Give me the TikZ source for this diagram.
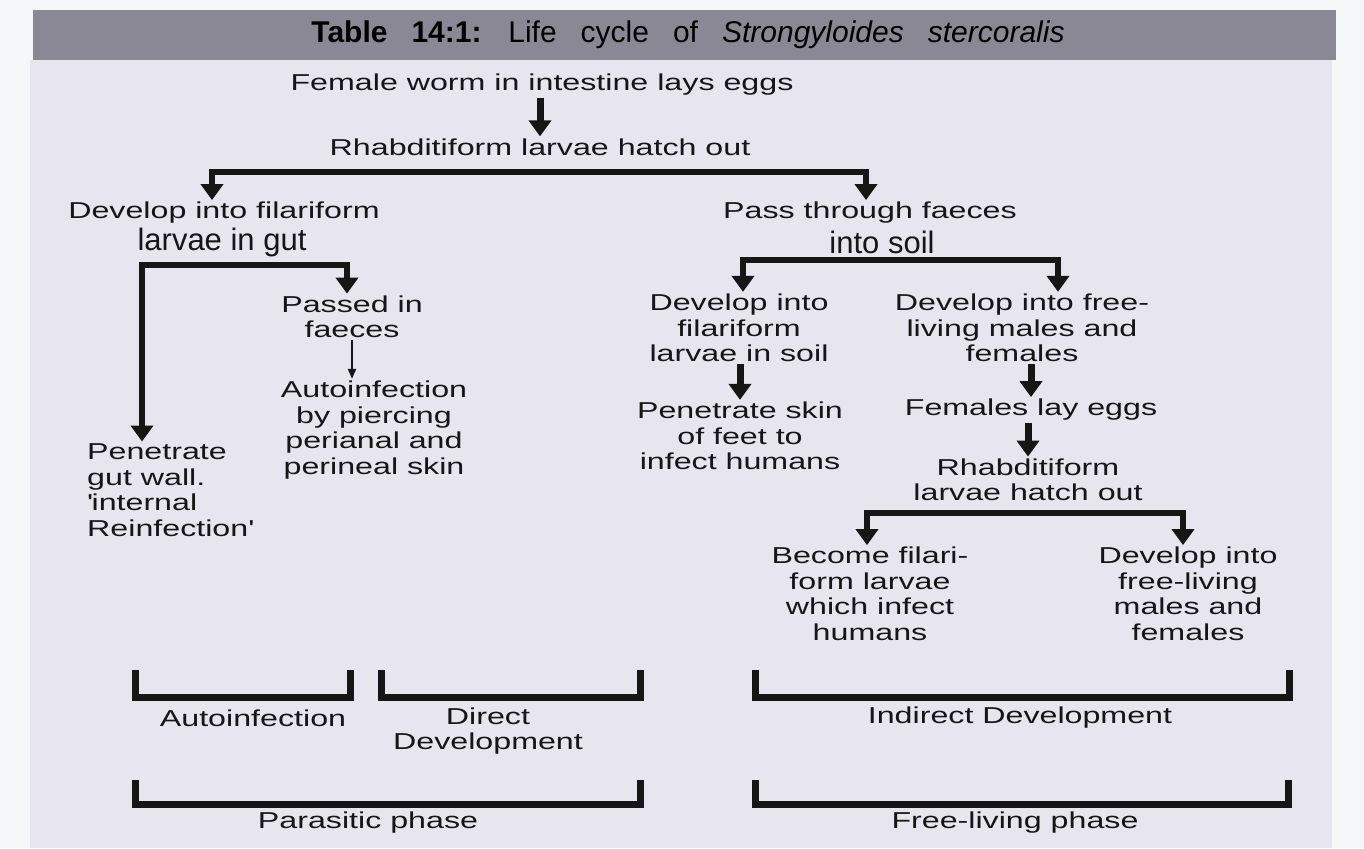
\documentclass[tikz,border=0pt]{standalone}
\usepackage{fontspec}
\setmainfont{Liberation Sans}[FakeStretch=1.4]
\newfontfamily\plainfont{Liberation Sans}
\usetikzlibrary{arrows.meta,calc}
\definecolor{paper}{HTML}{F5F6F8}
\definecolor{panel}{HTML}{E7E5EE}
\definecolor{barfill}{HTML}{8A8894}
\definecolor{ink}{HTML}{161616}
\def\bracket(#1,#2,#3,#4){\draw[brk] (#1,#3) -- (#1,#4) -- (#2,#4) -- (#2,#3);}
\tikzset{
	txt/.style={font=\fontsize{23}{25.5}\selectfont, align=center, text=ink, inner sep=2pt},
	bigtxt/.style={font=\plainfont\fontsize{31}{31}\selectfont, text=ink, inner sep=1pt},
	titletxt/.style={font=\plainfont\fontsize{30}{30}\selectfont, text=black, inner sep=0pt},
	arr/.style={line width=7pt, draw=ink, -{Triangle[width=22pt,length=16pt]}},
	split/.style={line width=6pt, draw=ink, line join=miter, {Triangle[width=22pt,length=16pt]}-{Triangle[width=22pt,length=16pt]}},
	thinarr/.style={line width=2pt, draw=ink, -{Triangle[width=8pt,length=10pt]}},
	brk/.style={line width=7pt, draw=ink, line join=miter}
}

\begin{document}
\begin{tikzpicture}[x=1pt,y=-1pt]
		%%%%% START %%%%%
		\useasboundingbox (0,0) rectangle (1364,848);
		\fill[paper] (0,0) rectangle (1364,848);
		\fill[panel] (30,60) rectangle (1332,848);
		\fill[barfill] (33,10) rectangle (1336,60);
		\node[titletxt] (title) at (688,35) {\spaceskip=24pt\relax\textbf{Table 14:1:} Life cycle of \textit{Strongyloides stercoralis}};
		
		% top of the cycle
		\node[txt] (eggs) at (542,85) {Female worm in intestine lays eggs};
		\node[txt] (hatch) at (540,147) {Rhabditiform larvae hatch out};
		\draw[arr] (eggs.south -| hatch.north) -- (hatch.north);
		
		\node[txt] (gut) at (224,213) {Develop into filariform};
		\node[bigtxt] (gut2) at (222,242) {larvae in gut};
		\node[txt] (faeces) at (870,213) {Pass through faeces};
		\node[bigtxt] (soil) at (882,242) {into soil};
		\coordinate (s1l) at (212,172);
		\coordinate (s1r) at (866,172);
		\draw[split] (gut.north -| s1l) -- (s1l) -- (s1r) -- (faeces.north -| s1r);
		
		% parasitic side
		\node[txt] (passed) at (352,317) {Passed in\\faeces};
		\node[txt] (auto) at (374,430) {Autoinfection\\by piercing\\perianal and\\perineal skin};
		\node[txt, align=left, anchor=west] (pen) at (85,490) {Penetrate\\gut wall.\\\textquotesingle internal\\Reinfection\textquotesingle};
		\coordinate (s2l) at (142,265);
		\coordinate (s2r) at (347,265);
		\draw[split] (pen.north -| s2l) -- (s2l) -- (s2r) -- (passed.north -| s2r);
		\draw[thinarr] (passed.south) -- (auto.north -| passed.south);
		
		% free-living side
		\node[txt] (fil) at (739,328) {Develop into\\filariform\\larvae in soil};
		\node[txt] (free) at (1022,328) {Develop into free-\\living males and\\females};
		\coordinate (s3l) at (743,260);
		\coordinate (s3r) at (1058,260);
		\draw[split] (fil.north -| s3l) -- (s3l) -- (s3r) -- (free.north -| s3r);
		
		\node[txt] (skin) at (740,436) {Penetrate skin\\of feet to\\infect humans};
		\draw[arr] (fil.south -| skin.north) -- (skin.north);
		
		\node[txt] (lay) at (1031,410) {Females lay eggs};
		\draw[arr] (free.south -| lay.north) -- (lay.north);
		\node[txt] (hatch2) at (1028,480) {Rhabditiform\\larvae hatch out};
		\draw[arr] (lay.south -| hatch2.north) -- (hatch2.north);
		
		\node[txt] (filari) at (870,594) {Become filari-\\form larvae\\which infect\\humans};
		\node[txt] (devfree) at (1188,594) {Develop into\\free-living\\males and\\females};
		\coordinate (s4l) at (867,513);
		\coordinate (s4r) at (1183,513);
		\draw[split] (filari.north -| s4l) -- (s4l) -- (s4r) -- (devfree.north -| s4r);
		
		% brackets
		\bracket(135,350,670,697)
		\bracket(381,640,670,697)
		\bracket(755,1289,670,697)
		\bracket(135,640,780,804)
		\bracket(755,1288,780,804)
		
		\node[txt] (autolbl) at (253,718) {Autoinfection};
		\node[txt] (directlbl) at (488,731) {Direct\\Development};
		\node[txt] (indirlbl) at (1020,718) {Indirect Development};
		\node[txt] (paralbl) at (368,823) {Parasitic phase};
		\node[txt] (freelbl) at (1015,823) {Free-living phase};
		%%%%% END %%%%%
	\end{tikzpicture}
\end{document}
